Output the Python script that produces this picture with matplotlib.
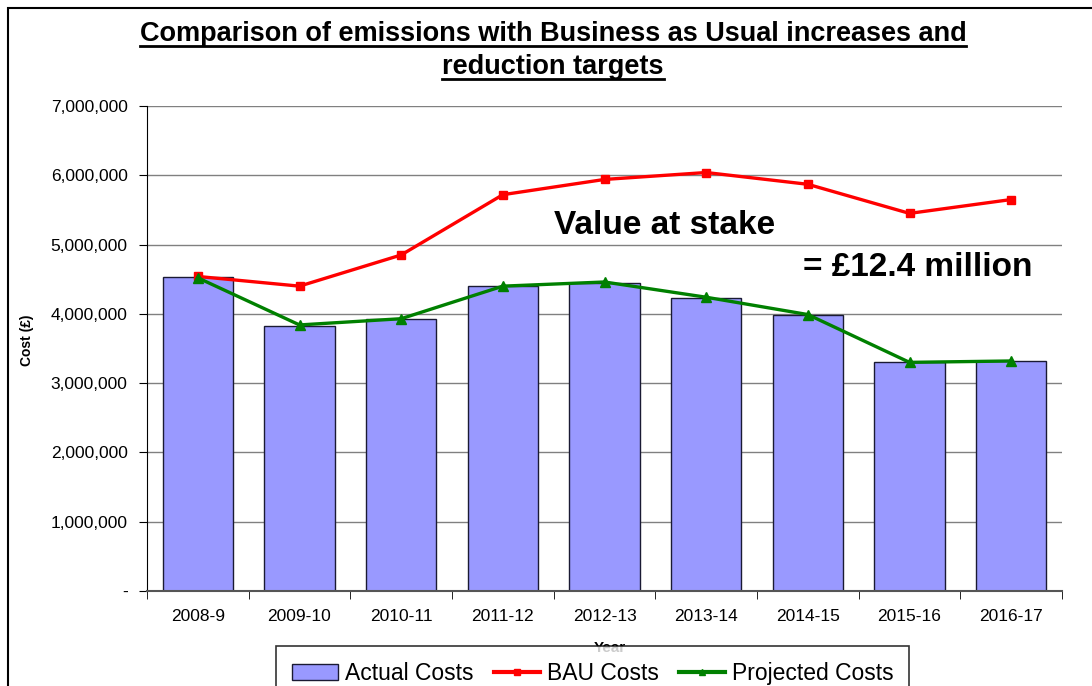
import matplotlib
matplotlib.use("Agg")
import matplotlib.pyplot as plt
from matplotlib.lines import Line2D
from matplotlib.patches import Rectangle, Patch
from matplotlib.ticker import FuncFormatter, FixedLocator

years = ["2008-9", "2009-10", "2010-11", "2011-12", "2012-13",
         "2013-14", "2014-15", "2015-16", "2016-17"]
actual_costs = [4530000, 3830000, 3930000, 4400000, 4450000,
                4230000, 3990000, 3300000, 3320000]
bau_costs = [4540000, 4400000, 4850000, 5720000, 5940000,
             6040000, 5870000, 5450000, 5650000]
projected_costs = [4520000, 3840000, 3930000, 4400000, 4460000,
                   4240000, 3990000, 3300000, 3320000]

arial = ['Liberation Sans', 'DejaVu Sans']

fig = plt.figure(figsize=(10.92, 6.86), dpi=100)
W, H = 1092, 686

# outer chart border (cut off at right and bottom like the reference)
fig.patches.append(Rectangle((8 / W, -0.1), 1.2, 1 - 8 / H + 0.1,
                             transform=fig.transFigure, fill=False,
                             edgecolor='black', linewidth=1.5))

ax = fig.add_axes([147 / W, 1 - 591 / H, (1062 - 147) / W, (591 - 106) / H])
x = range(len(years))

ax.bar(x, actual_costs, width=0.69, color='#9999ff', edgecolor='#1a1a33',
       linewidth=1.0, zorder=2)
ax.plot(x, bau_costs, color='#ff0000', linewidth=2.4, marker='s',
        markersize=6, zorder=4)
ax.plot(x, projected_costs, color='#008000', linewidth=2.4, marker='^',
        markersize=6.5, zorder=5)

ax.set_xlim(-0.5, len(years) - 0.5)
ax.set_ylim(0, 7000000)
ax.yaxis.set_major_locator(FixedLocator(range(0, 7000001, 1000000)))
ax.yaxis.set_major_formatter(FuncFormatter(lambda v, p: '-' if v == 0 else f'{int(v):,}'))
ax.grid(axis='y', color='#808080', linewidth=1.0, zorder=0)
ax.set_axisbelow(True)

ax.set_xticks(list(x))
ax.set_xticklabels(years, family=arial, fontsize=12.5)
ax.xaxis.set_minor_locator(FixedLocator([i - 0.5 for i in range(len(years) + 1)]))
ax.tick_params(axis='x', which='major', length=0, pad=13)
ax.tick_params(axis='x', which='minor', length=6, direction='out', color='black')
ax.tick_params(axis='y', length=6, direction='out', pad=8, labelsize=12.5)
for lab in ax.get_yticklabels():
    lab.set_family(arial)

for s in ['top', 'right']:
    ax.spines[s].set_visible(False)
ax.spines['left'].set_color('black')
ax.spines['bottom'].set_color('#555555')
ax.spines['bottom'].set_linewidth(1.5)

fig.text(27 / W, 1 - 340 / H, 'Cost (£)', ha='center', va='center', rotation=90,
         family=arial, fontweight='bold', fontsize=10)
fig.text(610 / W, 1 - 648 / H, 'Year', ha='center', va='center',
         family=arial, fontweight='bold', fontsize=11)

fig.text(665 / W, 1 - 226 / H, 'Value at stake', ha='center', va='center',
         family=arial, fontweight='bold', fontsize=24)
fig.text(918 / W, 1 - 268 / H, '= £12.4 million', ha='center', va='center',
         family=arial, fontweight='bold', fontsize=24)

# title with underline
t1 = fig.text(553 / W, 1 - 34 / H, 'Comparison of emissions with Business as Usual increases and',
              ha='center', va='center', family=arial, fontweight='bold', fontsize=19.5)
t2 = fig.text(553 / W, 1 - 67 / H, 'reduction targets',
              ha='center', va='center', family=arial, fontweight='bold', fontsize=19.5)
fig.canvas.draw()
r = fig.canvas.get_renderer()
for t in (t1, t2):
    bb = t.get_window_extent(r)
    yline = bb.y0 + 1
    fig.lines.append(Line2D([bb.x0 / W, bb.x1 / W], [yline / H, yline / H],
                            transform=fig.transFigure, color='black', linewidth=2))

handles = [Patch(facecolor='#9999ff', edgecolor='#1a1a33'),
           Line2D([], [], color='#ff0000', linewidth=3, marker='s', markersize=5),
           Line2D([], [], color='#008000', linewidth=3, marker='^', markersize=5)]
leg = fig.legend(handles, ['Actual Costs', 'BAU Costs', 'Projected Costs'],
                 loc='upper left', bbox_to_anchor=(276 / W, 1 - 646 / H),
                 borderaxespad=0, ncol=3, frameon=True, fancybox=False,
                 edgecolor='black', prop={'family': arial, 'size': 16.5},
                 handlelength=2.0, handletextpad=0.3, columnspacing=0.9,
                 borderpad=0.7)
leg.get_frame().set_linewidth(1.2)
leg.set_zorder(10)

fig.savefig('out.png', dpi=100)
